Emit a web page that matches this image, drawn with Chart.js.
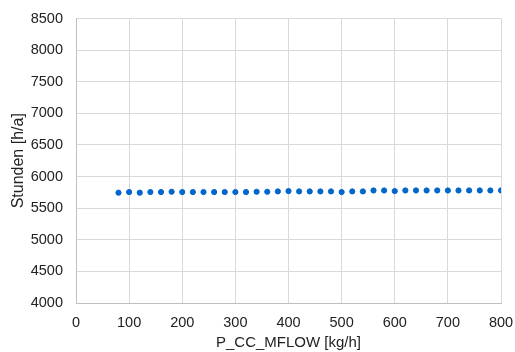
<!DOCTYPE html>
<html>
<head>
<meta charset="utf-8">
<script src="https://cdn.jsdelivr.net/npm/chart.js@4/dist/chart.umd.min.js"></script>
<style>
html, body { margin: 0; padding: 0; background: #fff; }
#wrap { width: 515px; height: 352px; }
</style>
</head>
<body>
<div id="wrap"><canvas id="chart" width="515" height="352"></canvas></div>
<script>
// Massenstrom [kg/h]
let flow = [80, 100, 120, 140, 160, 180, 200, 220, 240, 260, 280, 300, 320, 340, 360, 380, 400, 420, 440,
  460, 480, 500, 520, 540, 560, 580, 600, 620, 640, 660, 680, 700, 720, 740, 760, 780, 800];
// Stunden [h/a]
let hours = [5745, 5755, 5745, 5755, 5755, 5760, 5755, 5755, 5755, 5755, 5755, 5755, 5755, 5760, 5760, 5765, 5770, 5765, 5765,
  5765, 5765, 5755, 5765, 5765, 5780, 5780, 5770, 5780, 5780, 5780, 5780, 5780, 5780, 5780, 5780, 5780, 5780];

let xLabel = "P_CC_MFLOW [kg/h]";
let yLabel = "Stunden [h/a]";

let points = flow.map((f, i) => ({ x: f, y: hours[i] }));

let font = "'Liberation Sans', Arial, sans-serif";

new Chart(document.getElementById("chart"), {
  type: 'scatter',
  data: {
    datasets: [{
      data: points,
      backgroundColor: '#0066CC',
      borderColor: '#0066CC',
      pointRadius: 2.6,
      pointHoverRadius: 2.6
    }]
  },
  options: {
    responsive: false,
    animation: false,
    layout: { padding: { left: 0, right: 14, top: 18.5, bottom: 0 } },
    plugins: { legend: { display: false }, tooltip: { enabled: false } },
    scales: {
      x: {
        type: 'linear',
        min: 0, max: 800,
        ticks: { stepSize: 100, color: '#222', font: { family: font, size: 14.5 }, padding: 11,
          callback: v => String(v) },
        grid: { color: '#D9D9D9', drawTicks: false },
        border: { color: '#BFBFBF' },
        title: { display: true, text: xLabel, color: '#222', font: { family: font, size: 15 }, padding: { top: 0, bottom: 0 } },
        afterFit: s => { s.height = 49; s.paddingLeft = 0; s.paddingRight = 0; }
      },
      y: {
        min: 4000, max: 8500,
        ticks: { stepSize: 500, color: '#222', font: { family: font, size: 14.5 }, padding: 13,
          callback: v => String(v) },
        grid: { color: '#D9D9D9', drawTicks: false },
        border: { color: '#BFBFBF' },
        title: { display: true, text: yLabel, color: '#222', font: { family: font, size: 16 }, padding: { top: 8.5, bottom: 0 } },
        afterFit: s => { s.width = 76; s.paddingTop = 0; s.paddingBottom = 0; }
      }
    }
  }
});
</script>
</body>
</html>
